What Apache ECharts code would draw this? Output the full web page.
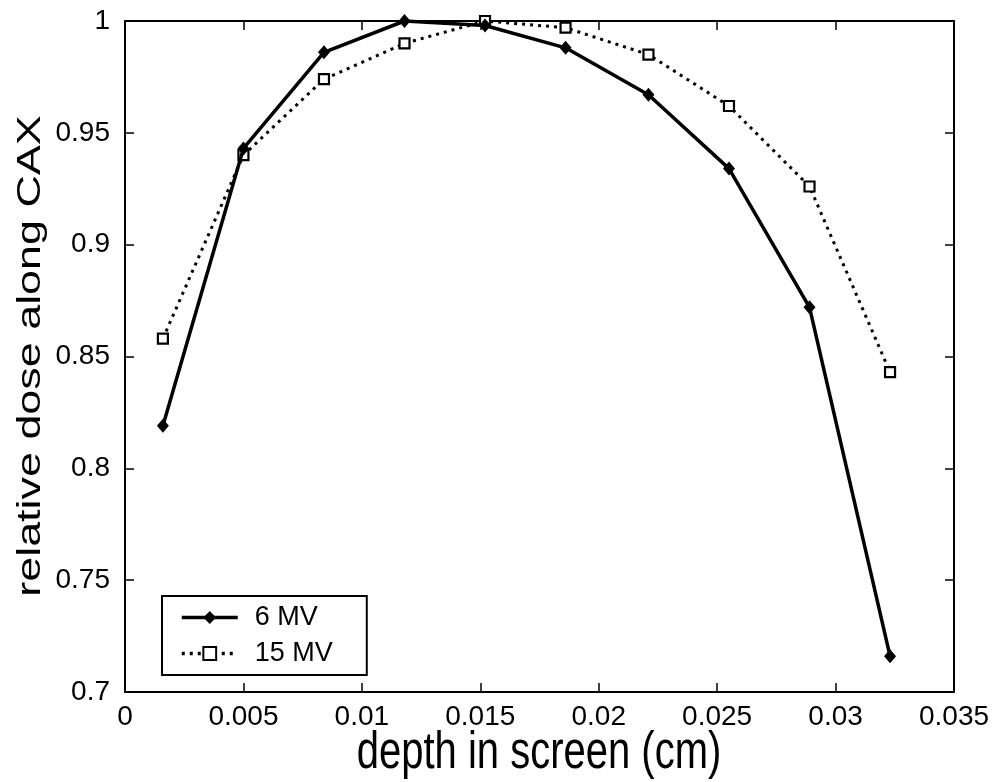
<!DOCTYPE html>
<html>
<head>
<meta charset="utf-8">
<script src="https://cdn.jsdelivr.net/npm/echarts@6/dist/echarts.min.js"></script>
<style>
  html, body { margin: 0; padding: 0; background: #fff; }
  #chart { width: 998px; height: 782px; }
</style>
</head>
<body>
<div id="chart"></div>
<script>
// Depth in screen (cm) for each measurement point
const depth = [0.0016, 0.0050, 0.0084, 0.0118, 0.0152, 0.0186, 0.0221, 0.0255, 0.0289, 0.0323];
// Relative dose along the central axis
const dose6MV = [0.819, 0.943, 0.986, 1.000, 0.998, 0.988, 0.967, 0.934, 0.872, 0.716];
const dose15MV = [0.858, 0.940, 0.974, 0.990, 1.000, 0.997, 0.985, 0.962, 0.926, 0.843];
const seriesNames = ['6 MV', '15 MV'];
const xTitle = 'depth in screen (cm)';
const yTitle = 'relative dose along CAX';

const FONT = '"Liberation Sans", Arial, sans-serif';
const pairs = (xs, ys) => xs.map((x, i) => [x, ys[i]]);

const chart = echarts.init(document.getElementById('chart'), null, { renderer: 'canvas' });

const axisCommon = {
  axisLine: { show: true, onZero: false, lineStyle: { color: '#000', width: 2 } },
  axisTick: { show: true, inside: true, length: 9, lineStyle: { color: '#000', width: 1.5 } },
  splitLine: { show: false }
};

chart.setOption({
  backgroundColor: '#fff',
  animation: false,
  grid: { left: 125, right: 44, top: 21, bottom: 90 },
  xAxis: [
    Object.assign({
      type: 'value', min: 0, max: 0.035, interval: 0.005, position: 'bottom',
      axisLabel: { color: '#000', fontSize: 28, fontFamily: FONT, margin: 11 }
    }, axisCommon),
    Object.assign({
      type: 'value', min: 0, max: 0.035, interval: 0.005, position: 'top',
      axisLabel: { show: false }
    }, axisCommon)
  ],
  yAxis: [
    Object.assign({
      type: 'value', min: 0.7, max: 1, interval: 0.05, position: 'left',
      axisLabel: { color: '#000', fontSize: 28, fontFamily: FONT, margin: 15 }
    }, axisCommon),
    Object.assign({
      type: 'value', min: 0.7, max: 1, interval: 0.05, position: 'right',
      axisLabel: { show: false }
    }, axisCommon)
  ],
  legend: {
    orient: 'vertical',
    left: 162,
    top: 596,
    data: seriesNames,
    backgroundColor: '#fff',
    borderColor: '#000',
    borderWidth: 2,
    borderRadius: 0,
    padding: [8, 34, 8, 18],
    itemWidth: 56,
    itemHeight: 16,
    itemGap: 9,
    lineStyle: { width: 3.5 },
    textStyle: { color: '#000', fontSize: 27, fontFamily: FONT, padding: [0, 0, 0, 12] }
  },
  series: [
    {
      name: seriesNames[1],
      type: 'line',
      data: pairs(depth, dose15MV),
      clip: false,
      symbol: 'rect',
      symbolSize: 10,
      lineStyle: { color: '#000', width: 3, type: [3, 5], cap: 'butt' },
      itemStyle: { color: '#fff', borderColor: '#000', borderWidth: 2.2 },
      z: 2
    },
    {
      name: seriesNames[0],
      type: 'line',
      data: pairs(depth, dose6MV),
      clip: false,
      symbol: 'diamond',
      symbolSize: [12, 14],
      lineStyle: { color: '#000', width: 3.5, type: 'solid' },
      itemStyle: { color: '#000', borderColor: '#000', borderWidth: 0 },
      z: 3
    }
  ],
  graphic: [
    {
      type: 'text',
      x: 539, y: 754,
      scaleY: 1.3,
      style: {
        text: xTitle, fill: '#000', fontSize: 40, fontFamily: FONT,
        textAlign: 'center', textVerticalAlign: 'middle'
      }
    },
    {
      type: 'text',
      x: 31, y: 356,
      rotation: Math.PI / 2,
      scaleX: 1.36,
      style: {
        text: yTitle, fill: '#000', fontSize: 33, fontFamily: FONT,
        textAlign: 'center', textVerticalAlign: 'middle'
      }
    }
  ]
});
</script>
</body>
</html>
